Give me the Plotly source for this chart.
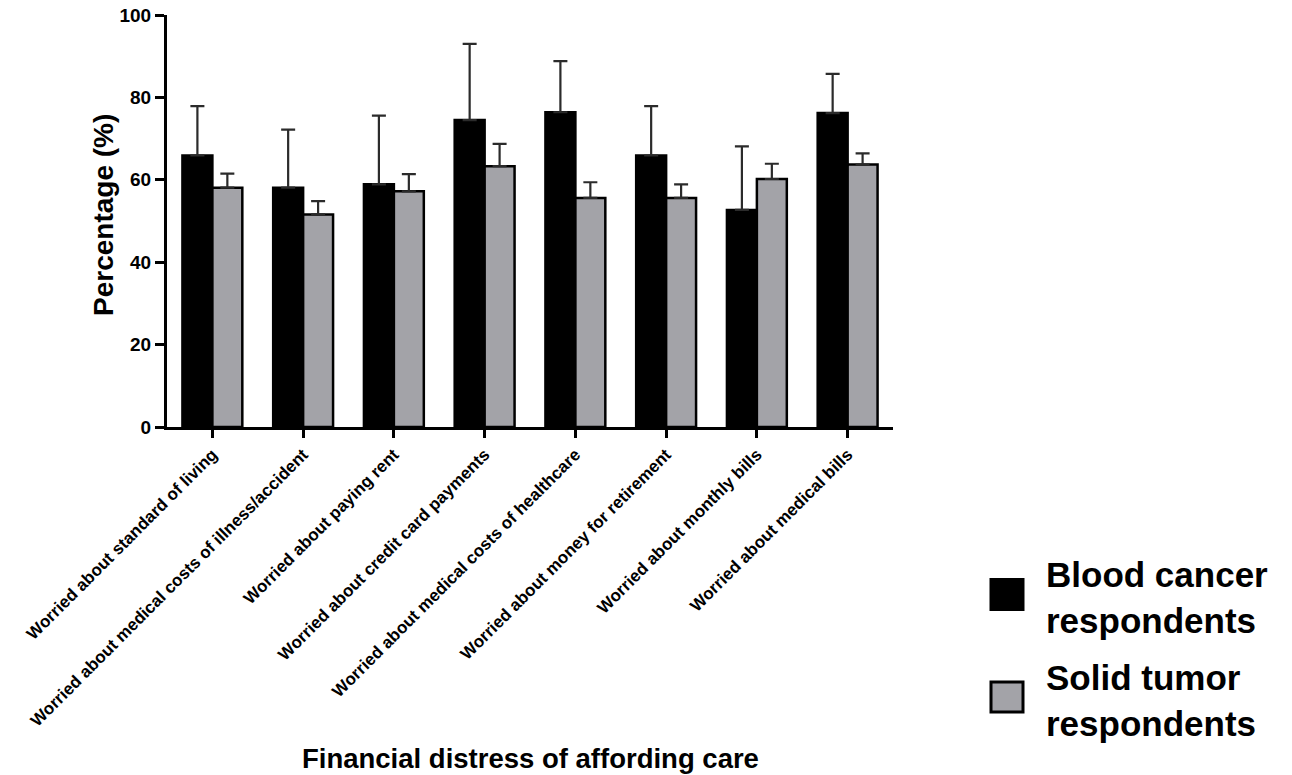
import plotly.graph_objects as go

# Survey items on financial distress (x categories)
categories = [
    "Worried about standard of living",
    "Worried about medical costs of illness/accident",
    "Worried about paying rent",
    "Worried about credit card payments",
    "Worried about medical costs of healthcare",
    "Worried about money for retirement",
    "Worried about monthly bills",
    "Worried about medical bills",
]

# Mean percentages and upper error (bar top + error = whisker top)
blood_pct = [65.9, 58.1, 58.9, 74.5, 76.4, 65.9, 52.7, 76.2]
blood_err = [12.0, 14.1, 16.7, 18.5, 12.4, 12.0, 15.4, 9.5]
solid_pct = [58.1, 51.6, 57.2, 63.3, 55.6, 55.6, 60.2, 63.7]
solid_err = [3.4, 3.2, 4.2, 5.4, 3.8, 3.3, 3.7, 2.7]

series_names = ["Blood cancer<br>respondents", "Solid tumor<br>respondents"]
y_ticks = [0, 20, 40, 60, 80, 100]

FONT = "Liberation Sans, Arial, Helvetica, sans-serif"
BLACK = "#000000"
GREY = "#a3a3a8"
ERR = "#2b2b2b"

W, H = 1292, 775
L, R, T, B = 167, 399, 15, 348
PW, PH = W - L - R, H - T - B


def px_x(px):
    return (px - L) / PW


def px_y(py):
    return (H - B - py) / PH


fig = go.Figure()
for name, vals, errs, color in [
    (series_names[0], blood_pct, blood_err, BLACK),
    (series_names[1], solid_pct, solid_err, GREY),
]:
    fig.add_trace(go.Bar(
        x=categories,
        y=vals,
        name=name,
        marker=dict(color=color, line=dict(color=BLACK, width=2.5)),
        error_y=dict(type="data", symmetric=False, array=errs,
                     arrayminus=[0] * len(errs), color=ERR,
                     thickness=2.2, width=7),
        showlegend=False,
    ))

fig.update_layout(
    width=W, height=H,
    margin=dict(l=L, r=R, t=T, b=B, autoexpand=False),
    paper_bgcolor="white", plot_bgcolor="white",
    barmode="group", bargap=0.34, bargroupgap=0,
    font=dict(family=FONT, color=BLACK),
)

fig.update_xaxes(
    type="category", range=[-0.5, len(categories) - 0.5],
    showline=True, linecolor=BLACK, linewidth=3,
    ticks="outside", ticklen=8, tickwidth=2.5, tickcolor=BLACK,
    tickangle=-45, tickfont=dict(family=FONT, size=17, weight="bold"),
    showgrid=False, zeroline=False,
)
fig.update_yaxes(
    range=[0, 100], tickvals=y_ticks,
    showline=True, linecolor=BLACK, linewidth=3,
    ticks="outside", ticklen=9, tickwidth=2.5, tickcolor=BLACK,
    tickfont=dict(family=FONT, size=19, weight="bold"),
    showgrid=False, zeroline=False,
)

# Axis titles
fig.add_annotation(
    text="Financial distress of affording care", xref="paper", yref="paper",
    x=0.5, y=px_y(758), xanchor="center", yanchor="middle", showarrow=False,
    font=dict(family=FONT, size=27.5, weight="bold", color=BLACK),
)
fig.add_annotation(
    text="Percentage (%)", xref="paper", yref="paper", textangle=-90,
    x=px_x(103), y=px_y(215), xanchor="center", yanchor="middle", showarrow=False,
    font=dict(family=FONT, size=28, weight="bold", color=BLACK),
)

# Legend: swatches and labels
legend_rows = [(BLACK, 594.5, 597), (GREY, 697, 700)]
for (color, sq_c, txt_c), name in zip(legend_rows, series_names):
    fig.add_shape(
        type="rect", xref="paper", yref="paper",
        x0=px_x(991), x1=px_x(1023), y0=px_y(sq_c - 15), y1=px_y(sq_c + 15),
        fillcolor=color, line=dict(color=BLACK, width=3),
    )
    fig.add_annotation(
        text=name, xref="paper", yref="paper", align="left",
        x=px_x(1044), y=px_y(txt_c), xanchor="left", yanchor="middle",
        showarrow=False,
        font=dict(family=FONT, size=35, weight="bold", color=BLACK),
    )

fig.write_html("out.html")
